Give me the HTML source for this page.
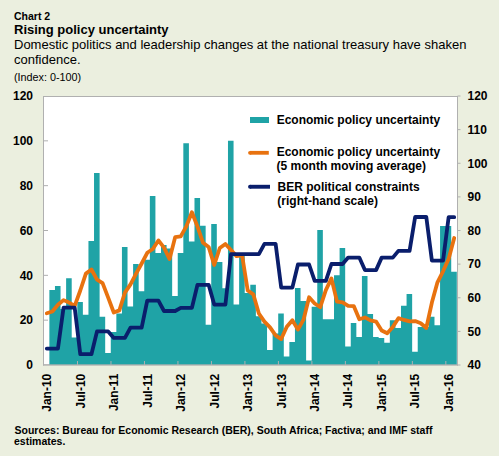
<!DOCTYPE html>
<html><head><meta charset="utf-8"><style>
html,body{margin:0;padding:0;width:499px;height:456px;overflow:hidden;background:#EBEFDF;}
</style></head><body>
<svg width="499" height="456" viewBox="0 0 499 456" style="position:absolute;left:0;top:0">
<rect x="0" y="0" width="499" height="456" fill="#EBEFDF"/>
<text x="14" y="20" font-family="&apos;Liberation Sans&apos;, sans-serif" font-size="10.5" font-weight="bold" fill="#000">Chart 2</text>
<text x="14" y="33.8" font-family="&apos;Liberation Sans&apos;, sans-serif" font-size="13" font-weight="bold" fill="#000">Rising policy uncertainty</text>
<text x="14" y="49.0" font-family="&apos;Liberation Sans&apos;, sans-serif" font-size="13" fill="#000">Domestic politics and leadership changes at the national treasury have shaken</text>
<text x="14" y="63.5" font-family="&apos;Liberation Sans&apos;, sans-serif" font-size="13" fill="#000">confidence.</text>
<text x="13.9" y="80.8" font-family="&apos;Liberation Sans&apos;, sans-serif" font-size="10.8" fill="#000">(Index: 0-100)</text>
<rect x="43.5" y="96.5" width="414" height="268.5" fill="#FFFFFF" stroke="#B0B0B0" stroke-width="1"/>
<path d="M43.80,365.00 L43.80,365.00 L49.38,365.00 L49.38,289.90 L54.96,289.90 L54.96,286.09 L60.54,286.09 L60.54,308.96 L66.12,308.96 L66.12,278.25 L71.71,278.25 L71.71,337.43 L77.29,337.43 L77.29,302.01 L82.87,302.01 L82.87,314.79 L88.45,314.79 L88.45,241.04 L94.03,241.04 L94.03,172.89 L99.61,172.89 L99.61,316.80 L105.19,316.80 L105.19,352.89 L110.77,352.89 L110.77,332.05 L116.35,332.05 L116.35,313.44 L121.94,313.44 L121.94,247.09 L127.52,247.09 L127.52,306.49 L133.10,306.49 L133.10,263.90 L138.68,263.90 L138.68,291.25 L144.26,291.25 L144.26,259.87 L149.84,259.87 L149.84,195.98 L155.42,195.98 L155.42,252.92 L161.00,252.92 L161.00,245.07 L166.58,245.07 L166.58,248.43 L172.16,248.43 L172.16,295.96 L177.75,295.96 L177.75,252.92 L183.33,252.92 L183.33,143.30 L188.91,143.30 L188.91,241.48 L194.49,241.48 L194.49,198.00 L200.07,198.00 L200.07,225.79 L205.65,225.79 L205.65,324.65 L211.23,324.65 L211.23,224.00 L216.81,224.00 L216.81,262.11 L222.39,262.11 L222.39,288.33 L227.98,288.33 L227.98,140.83 L233.56,140.83 L233.56,304.48 L239.14,304.48 L239.14,254.04 L244.72,254.04 L244.72,293.04 L250.30,293.04 L250.30,284.75 L255.88,284.75 L255.88,316.36 L261.46,316.36 L261.46,323.53 L267.04,323.53 L267.04,349.98 L272.62,349.98 L272.62,333.62 L278.21,333.62 L278.21,313.44 L283.79,313.44 L283.79,356.48 L289.37,356.48 L289.37,341.91 L294.95,341.91 L294.95,288.11 L300.53,288.11 L300.53,301.11 L306.11,301.11 L306.11,360.52 L311.69,360.52 L311.69,306.72 L317.27,306.72 L317.27,230.05 L322.85,230.05 L322.85,319.27 L328.44,319.27 L328.44,319.27 L334.02,319.27 L334.02,275.33 L339.60,275.33 L339.60,247.98 L345.18,247.98 L345.18,346.39 L350.76,346.39 L350.76,323.08 L356.34,323.08 L356.34,336.98 L361.92,336.98 L361.92,276.01 L367.50,276.01 L367.50,314.11 L373.08,314.11 L373.08,336.98 L378.66,336.98 L378.66,338.10 L384.25,338.10 L384.25,342.81 L389.83,342.81 L389.83,320.17 L395.41,320.17 L395.41,328.01 L400.99,328.01 L400.99,305.82 L406.57,305.82 L406.57,293.94 L412.15,293.94 L412.15,351.77 L417.73,351.77 L417.73,326.89 L423.31,326.89 L423.31,326.89 L428.89,326.89 L428.89,316.80 L434.48,316.80 L434.48,325.32 L440.06,325.32 L440.06,226.02 L445.64,226.02 L445.64,226.02 L451.22,226.02 L451.22,271.75 L456.80,271.75 L456.80,365.00 Z" fill="#1FA3A6"/>
<path d="M44,320.17 L48,320.17 M44,275.33 L48,275.33 M44,230.50 L48,230.50 M44,185.67 L48,185.67 M44,140.83 L48,140.83 M457.5,365.00 L460.5,365.00 M457.5,331.38 L460.5,331.38 M457.5,297.75 L460.5,297.75 M457.5,264.12 L460.5,264.12 M457.5,230.50 L460.5,230.50 M457.5,196.88 L460.5,196.88 M457.5,163.25 L460.5,163.25 M457.5,129.62 L460.5,129.62 M457.5,96.00 L460.5,96.00 M77.49,365 L77.49,361 M110.97,365 L110.97,361 M144.46,365 L144.46,361 M177.95,365 L177.95,361 M211.43,365 L211.43,361 M244.92,365 L244.92,361 M278.41,365 L278.41,361 M311.89,365 L311.89,361 M345.38,365 L345.38,361 M378.86,365 L378.86,361 M412.35,365 L412.35,361 M445.84,365 L445.84,361" stroke="#B0B0B0" stroke-width="1" fill="none"/>
<polyline points="46.79,313.30 52.37,311.50 57.95,304.80 63.53,300.13 69.11,302.55 74.70,305.80 80.28,290.50 85.86,273.63 91.44,269.50 97.02,279.68 102.60,283.13 108.18,297.62 113.76,312.46 119.34,310.39 124.93,292.59 130.51,284.43 136.09,273.72 141.67,263.50 147.25,252.78 152.83,249.02 158.41,240.45 163.99,247.67 169.57,259.06 175.16,237.14 180.74,236.42 186.32,226.33 191.90,212.30 197.48,226.64 203.06,242.78 208.64,246.91 214.22,264.98 219.80,247.98 225.39,243.95 230.97,249.96 236.55,256.14 242.13,255.43 247.71,290.53 253.29,294.34 258.87,313.53 264.45,321.65 270.03,327.38 275.61,335.41 281.20,339.09 286.78,326.71 292.36,320.21 297.94,329.63 303.52,319.67 309.10,297.30 314.68,303.53 320.26,307.17 325.84,290.13 331.43,278.38 337.01,301.65 342.59,302.41 348.17,305.95 353.75,306.09 359.33,319.31 364.91,317.43 370.49,320.44 376.07,321.60 381.66,330.43 387.24,333.21 392.82,326.98 398.40,318.15 403.98,319.94 409.56,321.29 415.14,321.06 420.72,323.26 426.30,328.00 431.89,302.60 437.47,282.30 443.05,271.30 448.63,259.00 454.21,238.00" fill="none" stroke="#E8720F" stroke-width="3.8" stroke-linejoin="round" stroke-linecap="round"/>
<polyline points="46.79,348.60 52.37,348.60 57.95,348.60 63.53,307.70 69.11,307.70 74.70,307.70 80.28,354.20 85.86,354.20 91.44,354.20 97.02,331.40 102.60,331.40 108.18,331.40 113.76,337.90 119.34,337.90 124.93,337.90 130.51,327.60 136.09,327.60 141.67,327.60 147.25,300.70 152.83,300.70 158.41,300.70 163.99,311.00 169.57,311.00 175.16,311.00 180.74,307.90 186.32,307.90 191.90,307.90 197.48,284.80 203.06,284.80 208.64,284.80 214.22,304.60 219.80,304.60 225.39,304.60 230.97,254.10 236.55,254.10 242.13,254.10 247.71,254.10 253.29,254.10 258.87,254.10 264.45,243.80 270.03,243.80 275.61,243.80 281.20,287.60 286.78,287.60 292.36,287.60 297.94,264.50 303.52,264.50 309.10,264.50 314.68,280.90 320.26,280.90 325.84,280.90 331.43,264.00 337.01,264.00 342.59,264.00 348.17,257.60 353.75,257.60 359.33,257.60 364.91,270.10 370.49,270.10 376.07,270.10 381.66,257.60 387.24,257.60 392.82,257.60 398.40,250.90 403.98,250.90 409.56,250.90 415.14,217.00 420.72,217.00 426.30,217.00 431.89,260.60 437.47,260.60 443.05,260.60 448.63,217.20 454.21,217.20" fill="none" stroke="#0A1E6C" stroke-width="3.8" stroke-linejoin="round" stroke-linecap="round"/>
<path d="M43.5,96 L43.5,365.5 M457.5,96 L457.5,365.5 M43,364.8 L458,364.8" stroke="#B0B0B0" stroke-width="1" fill="none"/>
<text x="33" y="369.30" font-family="&apos;Liberation Sans&apos;, sans-serif" font-size="12" font-weight="bold" text-anchor="end" fill="#000">0</text>
<text x="33" y="324.47" font-family="&apos;Liberation Sans&apos;, sans-serif" font-size="12" font-weight="bold" text-anchor="end" fill="#000">20</text>
<text x="33" y="279.63" font-family="&apos;Liberation Sans&apos;, sans-serif" font-size="12" font-weight="bold" text-anchor="end" fill="#000">40</text>
<text x="33" y="234.80" font-family="&apos;Liberation Sans&apos;, sans-serif" font-size="12" font-weight="bold" text-anchor="end" fill="#000">60</text>
<text x="33" y="189.97" font-family="&apos;Liberation Sans&apos;, sans-serif" font-size="12" font-weight="bold" text-anchor="end" fill="#000">80</text>
<text x="33" y="145.13" font-family="&apos;Liberation Sans&apos;, sans-serif" font-size="12" font-weight="bold" text-anchor="end" fill="#000">100</text>
<text x="33" y="100.30" font-family="&apos;Liberation Sans&apos;, sans-serif" font-size="12" font-weight="bold" text-anchor="end" fill="#000">120</text>
<text x="467.5" y="369.30" font-family="&apos;Liberation Sans&apos;, sans-serif" font-size="12" font-weight="bold" fill="#000">40</text>
<text x="467.5" y="335.68" font-family="&apos;Liberation Sans&apos;, sans-serif" font-size="12" font-weight="bold" fill="#000">50</text>
<text x="467.5" y="302.05" font-family="&apos;Liberation Sans&apos;, sans-serif" font-size="12" font-weight="bold" fill="#000">60</text>
<text x="467.5" y="268.43" font-family="&apos;Liberation Sans&apos;, sans-serif" font-size="12" font-weight="bold" fill="#000">70</text>
<text x="467.5" y="234.80" font-family="&apos;Liberation Sans&apos;, sans-serif" font-size="12" font-weight="bold" fill="#000">80</text>
<text x="467.5" y="201.18" font-family="&apos;Liberation Sans&apos;, sans-serif" font-size="12" font-weight="bold" fill="#000">90</text>
<text x="467.5" y="167.55" font-family="&apos;Liberation Sans&apos;, sans-serif" font-size="12" font-weight="bold" fill="#000">100</text>
<text x="467.5" y="133.93" font-family="&apos;Liberation Sans&apos;, sans-serif" font-size="12" font-weight="bold" fill="#000">110</text>
<text x="467.5" y="100.30" font-family="&apos;Liberation Sans&apos;, sans-serif" font-size="12" font-weight="bold" fill="#000">120</text>
<text transform="translate(51.09,373.7) rotate(-90)" x="0" y="0" font-family="&apos;Liberation Sans&apos;, sans-serif" font-size="12" font-weight="bold" text-anchor="end" fill="#000">Jan-10</text>
<text transform="translate(84.58,373.7) rotate(-90)" x="0" y="0" font-family="&apos;Liberation Sans&apos;, sans-serif" font-size="12" font-weight="bold" text-anchor="end" fill="#000">Jul-10</text>
<text transform="translate(118.06,373.7) rotate(-90)" x="0" y="0" font-family="&apos;Liberation Sans&apos;, sans-serif" font-size="12" font-weight="bold" text-anchor="end" fill="#000">Jan-11</text>
<text transform="translate(151.55,373.7) rotate(-90)" x="0" y="0" font-family="&apos;Liberation Sans&apos;, sans-serif" font-size="12" font-weight="bold" text-anchor="end" fill="#000">Jul-11</text>
<text transform="translate(185.04,373.7) rotate(-90)" x="0" y="0" font-family="&apos;Liberation Sans&apos;, sans-serif" font-size="12" font-weight="bold" text-anchor="end" fill="#000">Jan-12</text>
<text transform="translate(218.52,373.7) rotate(-90)" x="0" y="0" font-family="&apos;Liberation Sans&apos;, sans-serif" font-size="12" font-weight="bold" text-anchor="end" fill="#000">Jul-12</text>
<text transform="translate(252.01,373.7) rotate(-90)" x="0" y="0" font-family="&apos;Liberation Sans&apos;, sans-serif" font-size="12" font-weight="bold" text-anchor="end" fill="#000">Jan-13</text>
<text transform="translate(285.50,373.7) rotate(-90)" x="0" y="0" font-family="&apos;Liberation Sans&apos;, sans-serif" font-size="12" font-weight="bold" text-anchor="end" fill="#000">Jul-13</text>
<text transform="translate(318.98,373.7) rotate(-90)" x="0" y="0" font-family="&apos;Liberation Sans&apos;, sans-serif" font-size="12" font-weight="bold" text-anchor="end" fill="#000">Jan-14</text>
<text transform="translate(352.47,373.7) rotate(-90)" x="0" y="0" font-family="&apos;Liberation Sans&apos;, sans-serif" font-size="12" font-weight="bold" text-anchor="end" fill="#000">Jul-14</text>
<text transform="translate(385.96,373.7) rotate(-90)" x="0" y="0" font-family="&apos;Liberation Sans&apos;, sans-serif" font-size="12" font-weight="bold" text-anchor="end" fill="#000">Jan-15</text>
<text transform="translate(419.44,373.7) rotate(-90)" x="0" y="0" font-family="&apos;Liberation Sans&apos;, sans-serif" font-size="12" font-weight="bold" text-anchor="end" fill="#000">Jul-15</text>
<text transform="translate(452.93,373.7) rotate(-90)" x="0" y="0" font-family="&apos;Liberation Sans&apos;, sans-serif" font-size="12" font-weight="bold" text-anchor="end" fill="#000">Jan-16</text>
<rect x="250" y="117" width="19" height="6" fill="#1FA3A6"/>
<line x1="250" y1="152.8" x2="268.8" y2="152.8" stroke="#E8720F" stroke-width="3.8"/><circle cx="250" cy="152.8" r="1.9" fill="#E8720F"/>
<line x1="250" y1="186.75" x2="270" y2="186.75" stroke="#0A1E6C" stroke-width="3.9"/><circle cx="250" cy="186.75" r="1.95" fill="#0A1E6C"/>
<text x="276.7" y="123.9" font-family="&apos;Liberation Sans&apos;, sans-serif" font-size="12" font-weight="bold" fill="#000">Economic policy uncertainty</text>
<text x="276.7" y="155.9" font-family="&apos;Liberation Sans&apos;, sans-serif" font-size="12" font-weight="bold" fill="#000">Economic policy uncertainty</text>
<text x="276.6" y="169.6" font-family="&apos;Liberation Sans&apos;, sans-serif" font-size="12" font-weight="bold" fill="#000">(5 month moving average)</text>
<text x="277.6" y="191.2" font-family="&apos;Liberation Sans&apos;, sans-serif" font-size="12" font-weight="bold" fill="#000">BER political constraints</text>
<text x="277.3" y="204.9" font-family="&apos;Liberation Sans&apos;, sans-serif" font-size="12" font-weight="bold" fill="#000">(right-hand scale)</text>
<text x="14.5" y="433.8" font-family="&apos;Liberation Sans&apos;, sans-serif" font-size="10.5" font-weight="bold" fill="#000">Sources: Bureau for Economic Research (BER), South Africa; Factiva; and IMF staff</text>
<text x="14" y="444.6" font-family="&apos;Liberation Sans&apos;, sans-serif" font-size="10.5" font-weight="bold" fill="#000">estimates.</text>
</svg>
</body></html>
